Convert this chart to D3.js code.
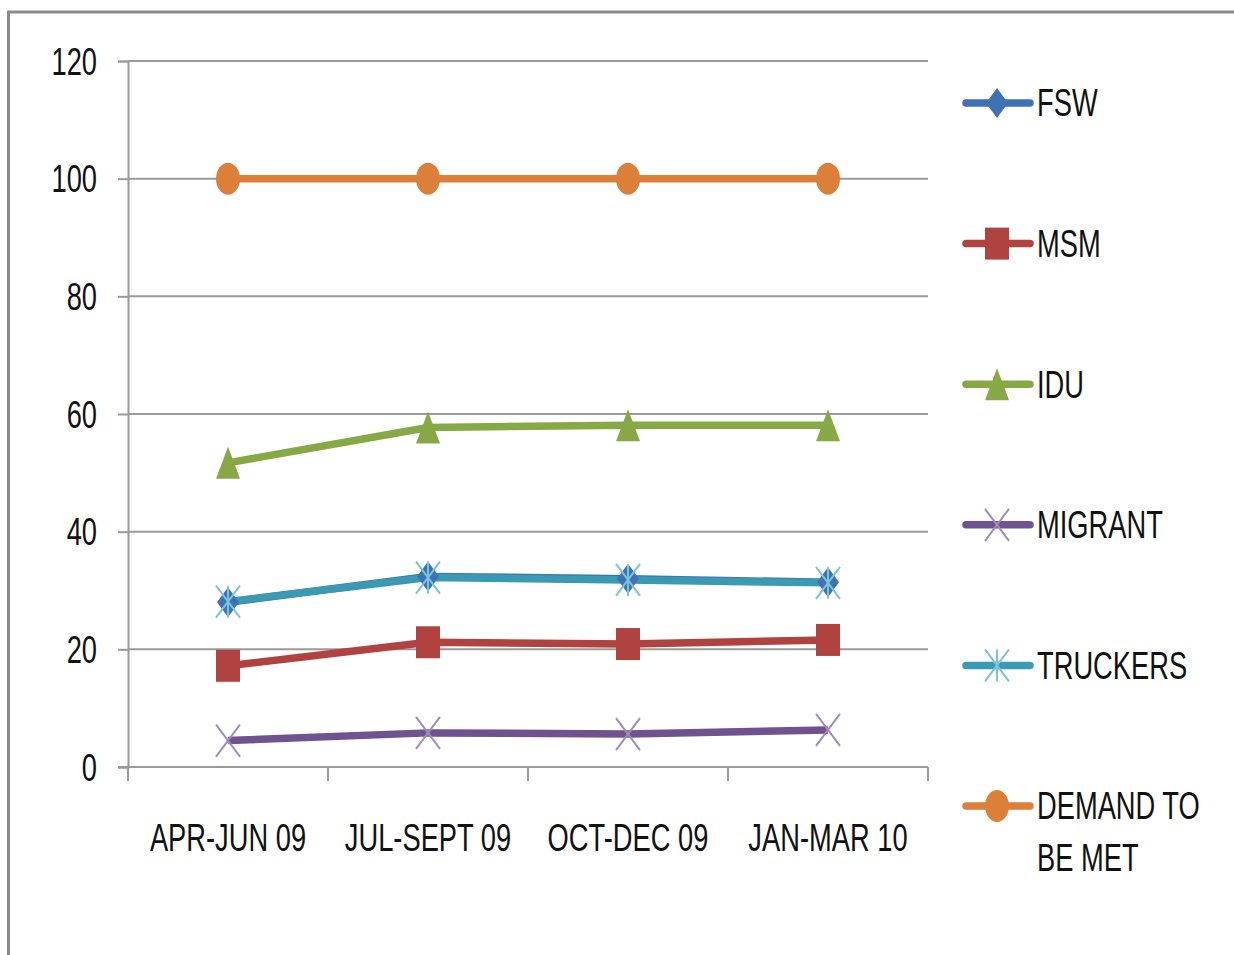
<!DOCTYPE html>
<html>
<head>
<meta charset="utf-8">
<script src="https://cdn.jsdelivr.net/npm/d3@7"></script>
<style>
  html, body { margin: 0; padding: 0; background: #fff; }
  svg { display: block; }
  text { font-family: "Liberation Sans", Arial, sans-serif; fill: #111; }
</style>
</head>
<body>
<svg id="chart"></svg>
<script>
// Data
const quarters = ['APR-JUN 09', 'JUL-SEPT 09', 'OCT-DEC 09', 'JAN-MAR 10'];
const fsw      = [28.0, 32.4, 32.0, 31.4];
const msm      = [17.2, 21.2, 20.9, 21.6];
const idu      = [51.7, 57.7, 58.1, 58.1];
const migrant  = [4.5, 5.8, 5.6, 6.3];
const truckers = [28.1, 32.2, 31.8, 31.3];
const demand   = [100, 100, 100, 100];
const yTicks   = [0, 20, 40, 60, 80, 100, 120];

const series = [
  { name: ['FSW'], values: fsw, color: '#3f72b4', marker: 'diamond' },
  { name: ['MSM'], values: msm, color: '#b0423f', marker: 'square' },
  { name: ['IDU'], values: idu, color: '#86a845', marker: 'triangle' },
  { name: ['MIGRANT'], values: migrant, color: '#6f528f', marker: 'x', markColor: '#a08cbd' },
  { name: ['TRUCKERS'], values: truckers, color: '#3b9ab3', marker: 'star', markColor: '#7cc3d6' },
  { name: ['DEMAND TO', 'BE MET'], values: demand, color: '#dc8039', marker: 'circle' }
];

// the original is squeezed sideways, so text and markers are too
const squeeze = 0.7;
const W = 1234, H = 955;
const plot = { left: 128, right: 928, top: 61, bottom: 767 };

const svg = d3.select('#chart').attr('width', W).attr('height', H);

// outer frame
svg.append('rect')
  .attr('x', 8.5).attr('y', 12)
  .attr('width', W + 20).attr('height', H + 20)
  .attr('fill', 'none').attr('stroke', '#8a8a8a').attr('stroke-width', 3);

const x = d3.scaleBand().domain(quarters).range([plot.left, plot.right]);
const y = d3.scaleLinear().domain([0, 120]).range([plot.bottom, plot.top]);
const cx = d => x(d) + x.bandwidth() / 2;

// gridlines
svg.append('g').selectAll('line')
  .data(yTicks.filter(t => t > 0))
  .enter().append('line')
    .attr('x1', plot.left).attr('x2', plot.right)
    .attr('y1', d => y(d)).attr('y2', d => y(d))
    .attr('stroke', '#9a9a9a').attr('stroke-width', 2);

// y axis
const yAxis = svg.append('g')
  .attr('transform', 'translate(' + plot.left + ',0)')
  .call(d3.axisLeft(y).tickValues(yTicks).tickSize(10).tickPadding(0).tickFormat(d3.format('d')));
yAxis.select('.domain').attr('stroke', '#9a9a9a').attr('stroke-width', 2);
yAxis.selectAll('.tick line').attr('stroke', '#9a9a9a').attr('stroke-width', 2);
yAxis.selectAll('.tick text')
  .attr('x', 0).attr('dy', null)
  .attr('text-anchor', 'end')
  .attr('dominant-baseline', 'central')
  .attr('transform', 'translate(-31,0) scale(' + squeeze + ',1)')
  .style('font-size', '39px');

// x axis
const xAxis = svg.append('g')
  .attr('transform', 'translate(0,' + plot.bottom + ')');
xAxis.append('line')
  .attr('x1', plot.left - 10).attr('x2', plot.right)
  .attr('stroke', '#9a9a9a').attr('stroke-width', 2);
xAxis.selectAll('.xtick')
  .data(quarters.concat([null]))
  .enter().append('line')
    .attr('x1', d => d ? x(d) : plot.right)
    .attr('x2', d => d ? x(d) : plot.right)
    .attr('y1', 0).attr('y2', 14)
    .attr('stroke', '#9a9a9a').attr('stroke-width', 2);
xAxis.selectAll('.xlabel')
  .data(quarters)
  .enter().append('text')
    .attr('text-anchor', 'middle')
    .attr('transform', d => 'translate(' + cx(d) + ',84) scale(' + squeeze + ',1)')
    .style('font-size', '39px')
    .text(d => d);

// marker shapes, rx / ry are half width / half height
function markerPath(type, rx, ry) {
  const p = d3.path();
  if (type === 'diamond') {
    p.moveTo(0, -ry); p.lineTo(rx, 0); p.lineTo(0, ry); p.lineTo(-rx, 0); p.closePath();
  } else if (type === 'square') {
    p.rect(-rx, -ry, rx * 2, ry * 2);
  } else if (type === 'triangle') {
    p.moveTo(0, -ry); p.lineTo(rx, ry); p.lineTo(-rx, ry); p.closePath();
  } else if (type === 'circle') {
    p.arc(0, 0, ry, 0, Math.PI * 2);
  } else if (type === 'x') {
    p.moveTo(-rx, -ry); p.lineTo(rx, ry); p.moveTo(rx, -ry); p.lineTo(-rx, ry);
  } else if (type === 'star') {
    p.moveTo(-rx, -ry); p.lineTo(rx, ry); p.moveTo(rx, -ry); p.lineTo(-rx, ry);
    p.moveTo(0, -ry); p.lineTo(0, ry);
  }
  return p.toString();
}
const isStroked = m => m === 'x' || m === 'star';

function drawMarker(g, s, px, py) {
  const ry = s.marker === 'diamond' ? 15 : 16;
  const rx = s.marker === 'circle' ? ry : (s.marker === 'diamond' ? 11 : 12);
  const sx = s.marker === 'circle' ? 0.75 : 1;
  g.append('path')
    .attr('d', markerPath(s.marker, rx, ry))
    .attr('transform', 'translate(' + px + ',' + py + ') scale(' + sx + ',1)')
    .attr('fill', isStroked(s.marker) ? 'none' : s.color)
    .attr('stroke', isStroked(s.marker) ? (s.markColor || s.color) : 'none')
    .attr('stroke-width', 2);
}

const line = d3.line()
  .x((d, i) => cx(quarters[i]))
  .y(d => y(d));

// lines first, then markers on top
const lines = svg.append('g');
series.forEach(s => {
  lines.append('path')
    .datum(s.values)
    .attr('d', line)
    .attr('fill', 'none')
    .attr('stroke', s.color)
    .attr('stroke-width', 7.5)
    .attr('stroke-linejoin', 'round');
});
const marks = svg.append('g');
series.forEach(s => {
  s.values.forEach((v, i) => drawMarker(marks, s, cx(quarters[i]), y(v)));
});

// legend
const legendTop = 103, legendStep = 140.6;
const legend = svg.append('g');
series.forEach((s, i) => {
  const ly = legendTop + i * legendStep;
  const g = legend.append('g');
  g.append('line')
    .attr('x1', 966).attr('x2', 1030)
    .attr('y1', ly).attr('y2', ly)
    .attr('stroke', s.color).attr('stroke-width', 7.5)
    .attr('stroke-linecap', 'round');
  drawMarker(g, s, 997, ly);
  s.name.forEach((t, j) => {
    g.append('text')
      .attr('text-anchor', 'start')
      .attr('dominant-baseline', 'central')
      .attr('transform', 'translate(1037,' + (ly + j * 52) + ') scale(' + squeeze + ',1)')
      .style('font-size', '39px')
      .text(t);
  });
});
</script>
</body>
</html>
